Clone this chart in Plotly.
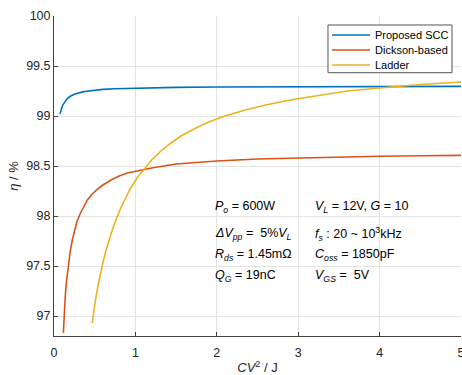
import plotly.graph_objects as go

# ---- data ----
scc_x = [0.074, 0.08, 0.09, 0.10, 0.11, 0.125, 0.14, 0.16, 0.18, 0.2, 0.25, 0.3, 0.35, 0.4, 0.5, 0.6,
         0.75, 1.0, 1.25, 1.5, 2.0, 2.5, 3.0, 4.0, 5.0]
scc_y = [99.02, 99.041, 99.07, 99.093, 99.112, 99.134, 99.152, 99.171, 99.185, 99.197, 99.217, 99.231,
         99.241, 99.248, 99.259, 99.266, 99.272, 99.279, 99.283, 99.286, 99.29, 99.292, 99.293, 99.295, 99.296]

dick_x = [0.115, 0.12, 0.13, 0.14, 0.15, 0.165, 0.18, 0.2, 0.225, 0.25, 0.28, 0.32, 0.36, 0.41, 0.46,
          0.52, 0.6, 0.7, 0.8, 0.9, 1.02, 1.2, 1.5, 2.0, 2.5, 3.0, 3.5, 4.0, 4.5, 5.0]
dick_y = [96.83, 96.95, 97.1, 97.22, 97.32, 97.44, 97.54, 97.65, 97.76, 97.85, 97.94, 98.02, 98.09,
          98.16, 98.21, 98.26, 98.31, 98.36, 98.40, 98.43, 98.45, 98.48, 98.52, 98.55, 98.57, 98.58,
          98.59, 98.597, 98.602, 98.606]

lad_x = [0.47, 0.49, 0.51, 0.54, 0.57, 0.6, 0.64, 0.68, 0.72, 0.77, 0.82, 0.88, 0.95, 1.02, 1.1, 1.2,
         1.3, 1.42, 1.56, 1.72, 1.9, 2.1, 2.35, 2.6, 2.9, 3.2, 3.6, 4.0, 4.5, 5.0]
lad_y = [96.93, 97.06, 97.16, 97.30, 97.42, 97.53, 97.66, 97.77, 97.87, 97.98, 98.08, 98.18, 98.29,
         98.38, 98.46, 98.56, 98.64, 98.72, 98.80, 98.87, 98.94, 99.0, 99.06, 99.11, 99.16, 99.20,
         99.25, 99.28, 99.315, 99.34]

series_names = ["Proposed SCC", "Dickson-based", "Ladder"]
x_ticks = [0, 1, 2, 3, 4, 5]
y_ticks = [97, 97.5, 98, 98.5, 99, 99.5, 100]
y_tick_labels = ["97", "97.5", "98", "98.5", "99", "99.5", "100"]

notes = [
    "<i>P</i><sub><i>o</i></sub> = 600W",
    "<i>V</i><sub><i>L</i></sub> = 12V, <i>G</i> = 10",
    "<i>ΔV</i><sub><i>pp</i></sub> =&nbsp; 5%<i>V</i><sub><i>L</i></sub>",
    "<i>f</i><sub><i>s</i></sub> : 20 ~ 10<sup>3</sup>kHz",
    "<i>R</i><sub><i>ds</i></sub> = 1.45mΩ",
    "<i>C</i><sub><i>oss</i></sub> = 1850pF",
    "<i>Q</i><sub><i>G</i></sub> = 19nC",
    "<i>V</i><sub><i>GS</i></sub> =&nbsp; 5V",
]

colors = ["#0072BD", "#D95319", "#EDB120"]
FONT = "Liberation Sans, Arial, sans-serif"
TXT = "#262626"

fig = go.Figure()
for xs, ys, name, c in zip([scc_x, dick_x, lad_x], [scc_y, dick_y, lad_y], series_names, colors):
    fig.add_trace(go.Scatter(x=xs, y=ys, name=name, mode="lines",
                             line=dict(color=c, width=1.6, shape="linear"), showlegend=False))

# parameter notes
col_x = [0.390, 0.637]
row_y = [0.402, 0.318, 0.253, 0.189]
for i, t in enumerate(notes):
    fig.add_annotation(text=t, xref="paper", yref="paper",
                       x=col_x[i % 2], y=row_y[i // 2], xanchor="left", yanchor="middle",
                       showarrow=False, font=dict(family=FONT, size=12.5, color="#000000"))

# legend box (MATLAB-style compact legend)
fig.add_shape(type="rect", xref="paper", yref="paper", x0=0.6732, x1=0.9779, y0=0.8228, y1=0.9719,
              line=dict(color="#555555", width=1), fillcolor="white", layer="above")
leg_rows = [0.9406, 0.8938, 0.8469]
for name, c, yy in zip(series_names, colors, leg_rows):
    fig.add_shape(type="line", xref="paper", yref="paper", x0=0.683, x1=0.7764, y0=yy, y1=yy,
                  line=dict(color=c, width=1.6), layer="above")
    fig.add_annotation(text=name, xref="paper", yref="paper", x=0.7838, y=yy,
                       xanchor="left", yanchor="middle", showarrow=False,
                       font=dict(family=FONT, size=11, color="#000000"))

fig.update_layout(
    width=462, height=375,
    margin=dict(l=54, r=1, t=16, b=39, autoexpand=False),
    paper_bgcolor="white", plot_bgcolor="white",
    font=dict(family=FONT, size=12, color=TXT),
    showlegend=False,
)
fig.update_xaxes(range=[0, 5], tickvals=x_ticks, ticks="inside", ticklen=4, automargin=False,
                 tickcolor="#404040", showline=True, linecolor="#404040", linewidth=1,
                 showgrid=True, gridcolor="#e3e3e3", gridwidth=1, zeroline=False,
                 ticklabeloverflow="allow", ticklabelstandoff=5,
                 tickfont=dict(size=12.5, color=TXT),
                 title=dict(text="<i>CV</i><sup>2</sup> / J", font=dict(size=13, color=TXT), standoff=6))
fig.update_yaxes(range=[96.8, 100], tickvals=y_ticks, ticktext=y_tick_labels, ticks="inside", ticklen=4,
                 automargin=False,
                 tickcolor="#404040", showline=True, linecolor="#404040", linewidth=1,
                 showgrid=True, gridcolor="#e3e3e3", gridwidth=1, zeroline=False,
                 tickfont=dict(size=12.5, color=TXT),
                 title=dict(text="<i>η</i> / %", font=dict(size=13, color=TXT), standoff=4))

fig.write_html("out.html")
